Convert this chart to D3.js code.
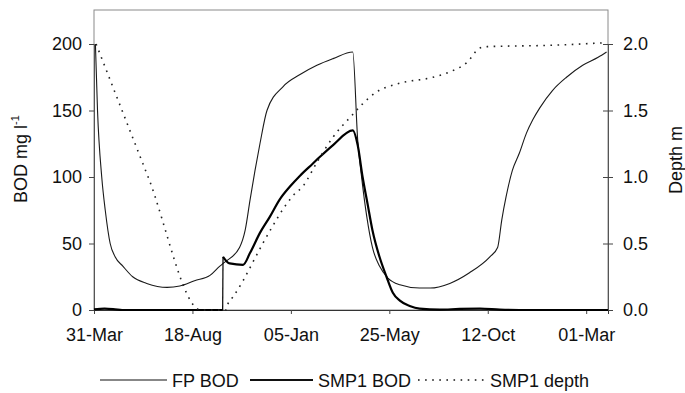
<!DOCTYPE html>
<html>
<head>
<meta charset="utf-8">
<script src="https://cdn.jsdelivr.net/npm/d3@7"></script>
<style>
  body { margin: 0; background: #fff; }
  svg text { font-family: "Liberation Sans", Arial, sans-serif; fill: #111; }
</style>
</head>
<body>
<svg id="chart" width="685" height="393"></svg>
<script>
// days counted from 31-Mar
const tickDays = [0, 140, 280, 420, 560, 700];
const tickLabels = ["31-Mar", "18-Aug", "05-Jan", "25-May", "12-Oct", "01-Mar"];

// FP BOD (mg/l)
const fpDays = [2, 5, 11, 16, 23, 30, 41, 55, 75, 104, 122, 143, 165, 179, 186, 207, 215, 222, 229, 236, 246,
  269, 293, 317, 340, 368, 375, 381, 388, 396, 406, 418, 435, 463, 478, 506, 534, 563, 574, 580, 586,
  595, 605, 615, 624, 634, 652, 672, 695, 717, 729];
const fpBod = [200, 150, 100, 75, 50, 40, 33, 25, 20, 17, 18, 22, 26, 33, 36, 47, 60, 83, 105, 125, 150,
  168, 177, 184, 189, 194, 128, 98, 70, 47, 33, 24, 19, 16.5, 16.5, 20, 28, 40, 47, 68, 85,
  105, 118, 133, 143, 152, 165, 175, 184, 190, 194];

// SMP1 BOD (mg/l); the jump on day 183 splits it in two runs
const smpDays = [0, 15, 30, 40, 183, 183.5, 193, 212, 222, 236, 250, 264, 279, 293, 311, 321, 340, 368,
  375, 382, 389, 396, 406, 416, 425, 435, 449, 463, 492, 520, 549, 577, 605, 731];
const smpBod = [0.5, 1, 0.5, 0, 0, 40, 35, 34, 43, 58, 70, 83, 93, 101, 110, 115, 124, 135,
  124, 100, 80, 60, 40, 25, 13, 7, 3, 1, 0.3, 0.8, 1, 0.3, 0, 0];
const smpJump = 5;

// SMP1 depth (m)
const depthDays = [3, 77, 152, 188, 190, 198, 212, 226, 240, 254, 269, 283, 297,
  317, 340, 368, 382, 402, 431, 482, 506, 530, 549, 559, 648, 729];
const depth = [2.0, 1.0, 0, 0, 0.04, 0.1, 0.22, 0.36, 0.5, 0.63, 0.76, 0.86, 0.93,
  1.11, 1.3, 1.47, 1.55, 1.64, 1.7, 1.75, 1.79, 1.86, 1.97, 1.98, 1.99, 2.01];

const svg = d3.select("#chart");
const plotL = 94, plotR = 608, plotT = 10, plotB = 310;

const x = d3.scaleLinear().domain([0, 731]).range([plotL, plotR]);
const yL = d3.scaleLinear().domain([0, 200]).range([plotB, 44]);
const yR = d3.scaleLinear().domain([0, 2]).range([plotB, 44]);

// frame
svg.append("rect")
  .attr("x", plotL).attr("y", plotT)
  .attr("width", plotR - plotL).attr("height", plotB - plotT)
  .attr("fill", "none").attr("stroke", "#8a8a8a").attr("stroke-width", 1);

// axes
const xAxis = svg.append("g")
  .attr("transform", `translate(0,${plotB})`)
  .call(d3.axisBottom(x).tickValues(tickDays).tickFormat((d, i) => tickLabels[i]).tickSize(4).tickPadding(14));
xAxis.select(".domain").attr("stroke", "#333");

const yAxisL = svg.append("g")
  .attr("transform", `translate(${plotL},0)`)
  .call(d3.axisLeft(yL).tickValues([0, 50, 100, 150, 200]).tickSize(5).tickPadding(7));
yAxisL.select(".domain").attr("stroke", "#555");

const yAxisR = svg.append("g")
  .attr("transform", `translate(${plotR},0)`)
  .call(d3.axisRight(yR).tickValues([0, 0.5, 1, 1.5, 2]).tickFormat(d3.format(".1f")).tickSize(5).tickPadding(10));
yAxisR.select(".domain").attr("stroke", "#555");
yAxisR.selectAll(".tick line").attr("x1", -5);

svg.selectAll(".tick text").attr("font-size", 18).attr("fill", "#111");
svg.selectAll(".tick line").attr("stroke", "#444");

// axis titles
const tL = svg.append("text")
  .attr("transform", "translate(27,159) rotate(-90)")
  .attr("text-anchor", "middle")
  .attr("font-size", 18);
tL.append("tspan").text("BOD mg l");
tL.append("tspan").attr("font-size", 11).attr("dy", -8).text("-1");

svg.append("text")
  .attr("transform", "translate(682,160) rotate(-90)")
  .attr("text-anchor", "middle")
  .attr("font-size", 18)
  .text("Depth m");

// series
const lineL = d3.line().x(d => x(d[0])).y(d => yL(d[1])).curve(d3.curveMonotoneX);
const lineR = d3.line().x(d => x(d[0])).y(d => yR(d[1])).curve(d3.curveMonotoneX);

svg.append("path")
  .datum(fpDays.map((d, i) => [d, fpBod[i]]))
  .attr("d", lineL)
  .attr("fill", "none").attr("stroke", "#1a1a1a").attr("stroke-width", 1.1);

const smp = smpDays.map((d, i) => [d, smpBod[i]]);
[smp.slice(0, smpJump), smp.slice(smpJump)].forEach(run => {
  svg.append("path")
    .datum(run)
    .attr("d", lineL)
    .attr("fill", "none").attr("stroke", "#000").attr("stroke-width", 2.2);
});
svg.append("line")
  .attr("x1", x(smp[smpJump - 1][0])).attr("y1", yL(smp[smpJump - 1][1]))
  .attr("x2", x(smp[smpJump][0])).attr("y2", yL(smp[smpJump][1]))
  .attr("stroke", "#000").attr("stroke-width", 1.2);

svg.append("path")
  .datum(depthDays.map((d, i) => [d, depth[i]]))
  .attr("d", lineR)
  .attr("fill", "none").attr("stroke", "#222").attr("stroke-width", 1.6)
  .attr("stroke-dasharray", "1.6,5.5");

// legend
const legend = [
  { name: "FP BOD", x1: 100, x2: 167, w: 1.1, dash: null },
  { name: "SMP1 BOD", x1: 250, x2: 313, w: 2.2, dash: null },
  { name: "SMP1 depth", x1: 418, x2: 485, w: 1.6, dash: "1.6,5.5" }
];
const lg = svg.append("g");
legend.forEach(l => {
  lg.append("line")
    .attr("x1", l.x1).attr("x2", l.x2).attr("y1", 380).attr("y2", 380)
    .attr("stroke", "#111").attr("stroke-width", l.w)
    .attr("stroke-dasharray", l.dash);
  lg.append("text")
    .attr("x", l.x2 + 5).attr("y", 387)
    .attr("font-size", 18)
    .text(l.name);
});
</script>
</body>
</html>
